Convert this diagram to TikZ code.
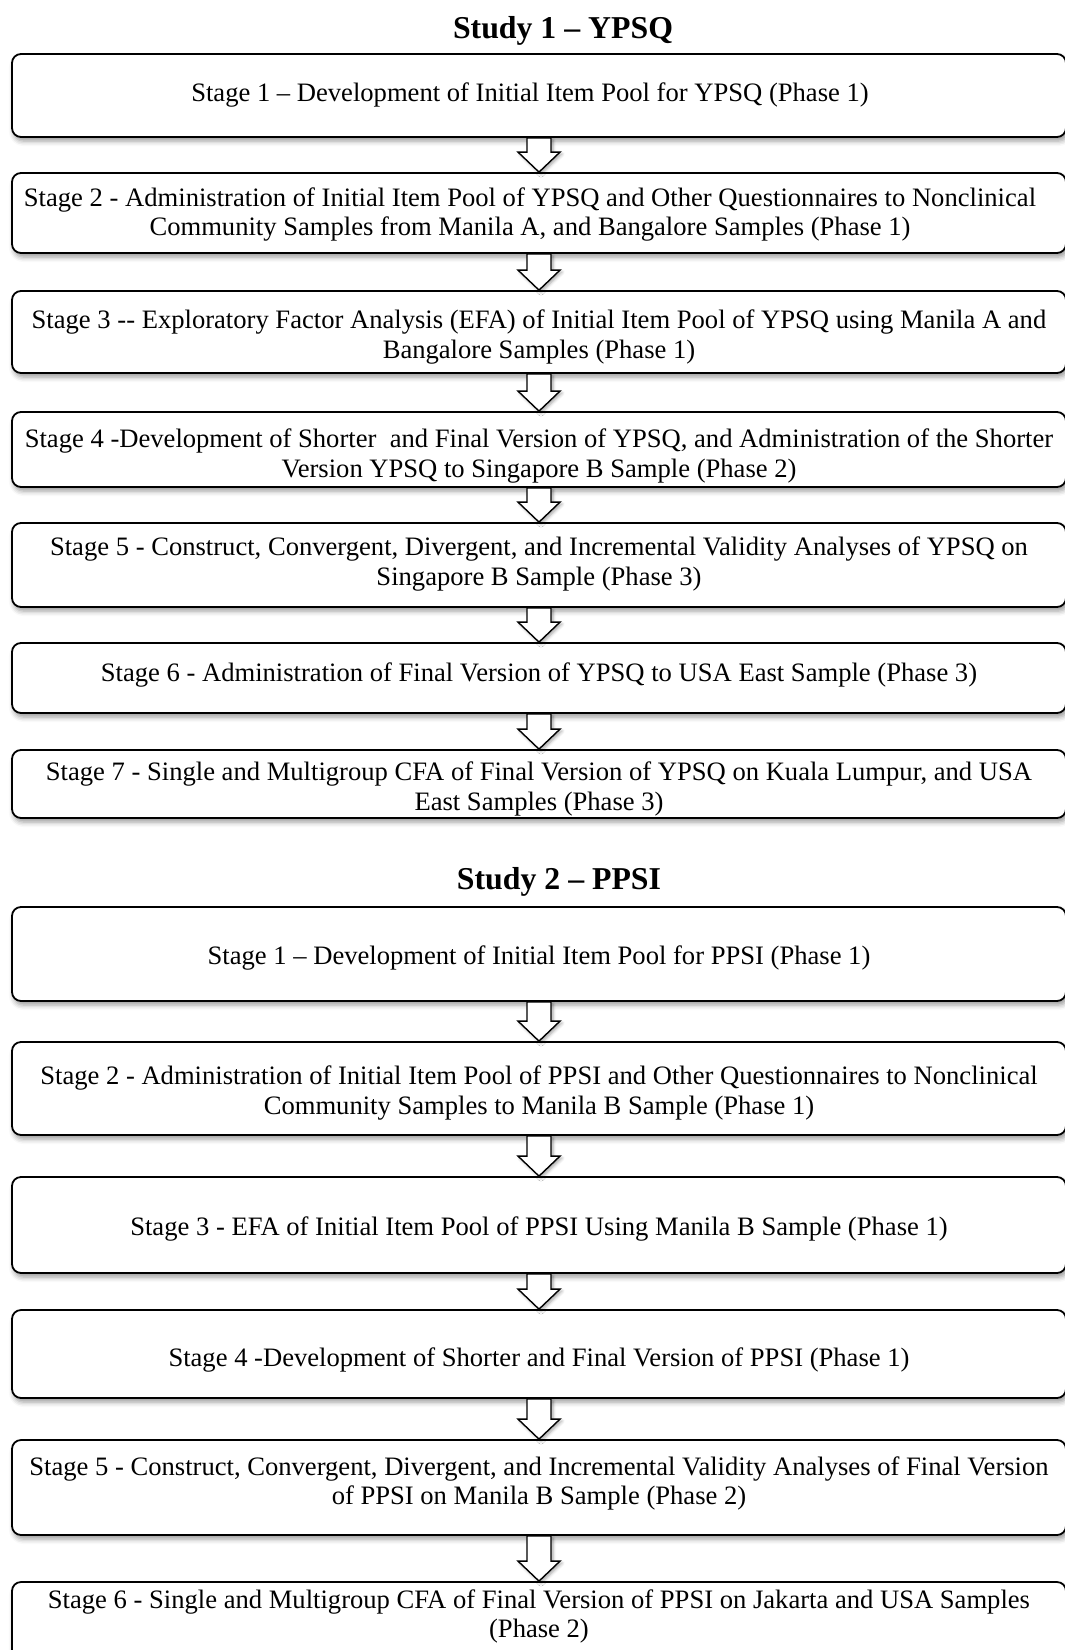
\documentclass[tikz,border=0pt]{standalone}
\usepackage{fontspec}
\setmainfont{Liberation Serif}
\usetikzlibrary{calc,shadows.blur}

\tikzset{
  stagebox/.style={draw=black, line width=1.8pt, rounded corners=9pt, fill=white,
    minimum width=1054pt, inner sep=0pt,
    blur shadow={shadow xshift=2pt, shadow yshift=-4pt, shadow blur radius=5pt, shadow opacity=40}},
  stagetext/.style={align=center, font=\fontsize{26.6}{29.5}\selectfont, inner sep=0pt},
  studytitle/.style={font=\fontsize{31.8}{36}\selectfont\bfseries, inner sep=0pt},
  blockarrow/.style={draw=black, line width=1.4pt, fill=white, line join=miter,
    blur shadow={shadow xshift=2pt, shadow yshift=-2pt, shadow blur radius=3pt, shadow opacity=35}}
}

% box: name, top, bottom ; text: x, y, content
\newcommand\stagenode[6]{%
  \node[stagebox, minimum height={#3-#2}] (#1) at (539,{(#2+#3)/2}) {};
  \node[stagetext] (#1t) at (#4,#5) {#6};}

% hollow block arrow from the bottom of one box to the top of the next
\newcommand\stagearrow[2]{%
  \draw[blockarrow] ($(#1.south)+(-12,0)$) -- ($(#2.north)+(-12,-20)$)
    -- ($(#2.north)+(-21,-20)$) -- (#2.north) -- ($(#2.north)+(21,-20)$)
    -- ($(#2.north)+(12,-20)$) -- ($(#1.south)+(12,0)$) -- cycle;}

\begin{document}
\begin{tikzpicture}[x=1pt,y=-1pt]
\useasboundingbox (0,0) rectangle (1065,1650);

% ---------------- Study 1 ----------------
\node[studytitle] (title1) at (563,31) {Study 1 – YPSQ};

\stagenode{a1}{54}{137}{530}{95}{Stage 1 – Development of Initial Item Pool for YPSQ (Phase 1)}
\stagenode{a2}{173}{253}{530}{214.5}{Stage 2 - Administration of Initial Item Pool of YPSQ and Other Questionnaires to Nonclinical\\Community Samples from Manila A, and Bangalore Samples (Phase 1)}
\stagenode{a3}{291}{373}{539}{337}{Stage 3 -{}- Exploratory Factor Analysis (EFA) of Initial Item Pool of YPSQ using Manila A and\\Bangalore Samples (Phase 1)}
\stagenode{a4}{412}{487}{539}{456}{Stage 4 -Development of Shorter~ and Final Version of YPSQ, and Administration of the Shorter\\Version YPSQ to Singapore B Sample (Phase 2)}
\stagenode{a5}{523}{607}{539}{564}{Stage 5 - Construct, Convergent, Divergent, and Incremental Validity Analyses of YPSQ on\\Singapore B Sample (Phase 3)}
\stagenode{a6}{643}{713}{539}{674.5}{Stage 6 - Administration of Final Version of YPSQ to USA East Sample (Phase 3)}
\stagenode{a7}{750}{818}{539}{789}{Stage 7 - Single and Multigroup CFA of Final Version of YPSQ on Kuala Lumpur, and USA\\East Samples (Phase 3)}

\stagearrow{a1}{a2}
\stagearrow{a2}{a3}
\stagearrow{a3}{a4}
\stagearrow{a4}{a5}
\stagearrow{a5}{a6}
\stagearrow{a6}{a7}

% ---------------- Study 2 ----------------
\node[studytitle] (title2) at (559,882) {Study 2 – PPSI};

\stagenode{b1}{907}{1001}{539}{957.5}{Stage 1 – Development of Initial Item Pool for PPSI (Phase 1)}
\stagenode{b2}{1042}{1135}{539}{1093}{Stage 2 - Administration of Initial Item Pool of PPSI and Other Questionnaires to Nonclinical\\Community Samples to Manila B Sample (Phase 1)}
\stagenode{b3}{1177}{1273}{539}{1229}{Stage 3 - EFA of Initial Item Pool of PPSI Using Manila B Sample (Phase 1)}
\stagenode{b4}{1310}{1398}{539}{1360}{Stage 4 -Development of Shorter and Final Version of PPSI (Phase 1)}
\stagenode{b5}{1440}{1535}{539}{1483.5}{Stage 5 - Construct, Convergent, Divergent, and Incremental Validity Analyses of Final Version\\of PPSI on Manila B Sample (Phase 2)}
\stagenode{b6}{1582}{1662}{539}{1616.5}{Stage 6 - Single and Multigroup CFA of Final Version of PPSI on Jakarta and USA Samples\\(Phase 2)}

\stagearrow{b1}{b2}
\stagearrow{b2}{b3}
\stagearrow{b3}{b4}
\stagearrow{b4}{b5}
\stagearrow{b5}{b6}
\end{tikzpicture}
\end{document}
